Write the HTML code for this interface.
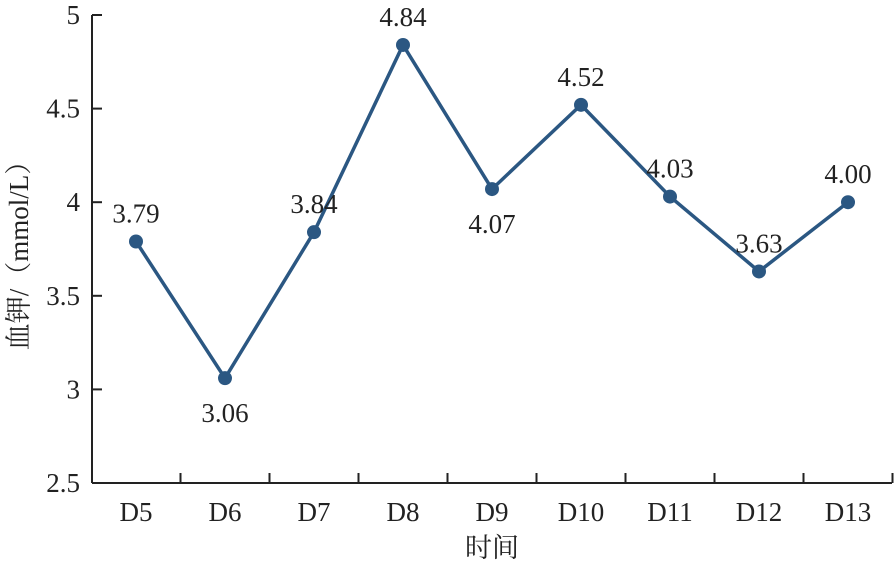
<!DOCTYPE html>
<html><head><meta charset="utf-8"><style>
body{margin:0;background:#fff}
svg text{font-family:"Liberation Serif","Noto Serif CJK SC",serif;fill:#222}
</style></head><body>
<svg id="c" width="896" height="563" xmlns="http://www.w3.org/2000/svg"></svg>
<script>
const categories=["D5","D6","D7","D8","D9","D10","D11","D12","D13"];
const values=[3.79,3.06,3.84,4.84,4.07,4.52,4.03,3.63,4.00];
const valueLabels=["3.79","3.06","3.84","4.84","4.07","4.52","4.03","3.63","4.00"];
const labelBelow=[false,true,false,false,true,false,false,false,false];
const yTicks=[2.5,3,3.5,4,4.5,5];
const yTickLabels=["2.5","3","3.5","4","4.5","5"];
const svg=document.getElementById('c');
const NS="http://www.w3.org/2000/svg";
const x0=92,x1=892,yTop=15,yBot=483,step=89,first=136;
const xs=i=>first+i*step;
const ys=v=>yBot-(v-2.5)/2.5*(yBot-yTop);
function mk(t,a,p){const e=document.createElementNS(NS,t);for(const k in a)e.setAttribute(k,a[k]);(p||svg).appendChild(e);return e;}
const ax=mk('g',{});


mk('line',{x1:x0,y1:yTop,x2:x0,y2:yBot,stroke:'#222','stroke-width':2},ax);
mk('line',{x1:x0,y1:yBot,x2:x1,y2:yBot,stroke:'#222','stroke-width':2},ax);
yTicks.forEach((v,i)=>{
  mk('line',{x1:x0,y1:ys(v),x2:x0+10,y2:ys(v),stroke:'#222','stroke-width':2},ax);
  const t=mk('text',{x:x0-12,y:ys(v)+9,'text-anchor':'end','font-size':27},ax);
  
  
  t.textContent=yTickLabels[i];
});
categories.forEach((c,i)=>{
  if(i>0)mk('line',{x1:xs(i)-step/2,y1:yBot,x2:xs(i)-step/2,y2:yBot-10,stroke:'#222','stroke-width':2},ax);
  const t=mk('text',{x:xs(i),y:yBot+38,'text-anchor':'middle','font-size':27},ax);
  
  
  t.textContent=c;
});
mk('line',{x1:xs(categories.length-1)+step/2,y1:yBot,x2:xs(categories.length-1)+step/2,y2:yBot-10,stroke:'#222','stroke-width':2},ax);
const xt=mk('text',{x:492,y:557,'text-anchor':'middle','font-size':27});


xt.textContent='时间';
const yt=mk('text',{x:0,y:0,'text-anchor':'middle','font-size':27,transform:'translate(28,249) rotate(-90)'});


yt.textContent='血钾/（mmol/L）';
const pl=mk('polyline',{points:values.map((v,i)=>xs(i)+','+ys(v)).join(' '),fill:'none',stroke:'#2b5782','stroke-width':3.5});


values.forEach((v,i)=>{
  const p=mk('circle',{cx:xs(i),cy:ys(v),r:7,fill:'#2b5782'});
  
  
  const t=mk('text',{x:xs(i),y:labelBelow[i]?ys(v)+44:ys(v)-19,'text-anchor':'middle','font-size':27});
  
  
  t.textContent=valueLabels[i];
});
</script>
</body></html>
